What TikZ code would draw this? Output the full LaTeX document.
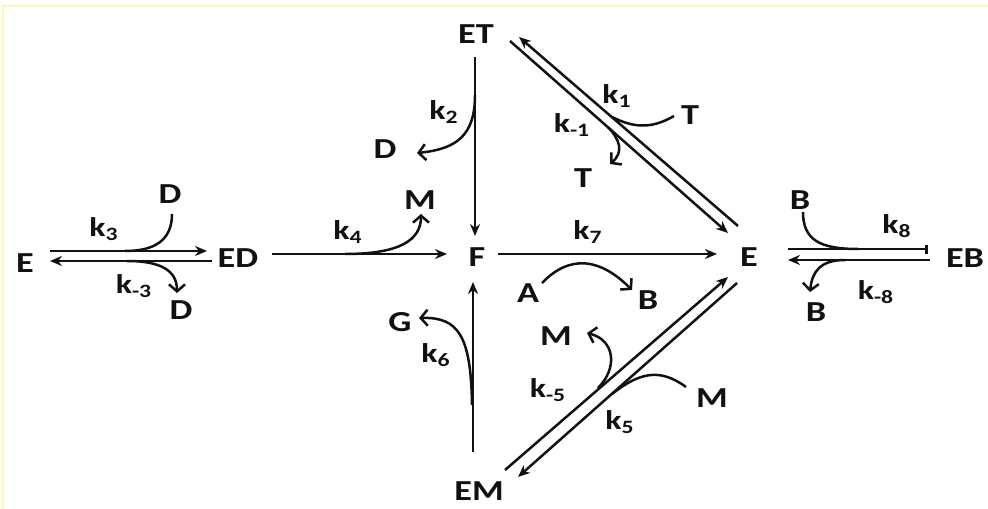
\documentclass[tikz,border=0pt]{standalone}
\usepackage{fontspec}
\setmainfont{Carlito}[FakeStretch=1.25]
\usetikzlibrary{arrows.meta,calc}
\definecolor{FrameYellow}{HTML}{FFF5B5}
\definecolor{InkBlack}{HTML}{111111}

\begin{document}
\begin{tikzpicture}[
x=0.5pt,y=-0.5pt,
spec/.style={inner sep=0pt,font=\fontsize{14.5}{16}\selectfont\bfseries,text=InkBlack},
rate/.style={inner sep=0pt,font=\fontsize{13.5}{15}\selectfont\bfseries,text=InkBlack},
rxn/.style={-{Stealth[length=6pt,width=5pt]},line width=1.25pt,draw=InkBlack},
rxnbar/.style={-{Bar[width=4.5pt,line width=1.4pt]},line width=1.25pt,draw=InkBlack},
outarr/.style={-{Straight Barb[length=3.5pt,width=8pt,line width=1.25pt]},line width=1.25pt,draw=InkBlack},
feed/.style={line width=1.25pt,draw=InkBlack}
]
\useasboundingbox (0,0) rectangle (988,508);
\draw[FrameYellow,line width=1.2pt] (3,6) rectangle (1000,520);

% enzyme species
\node[spec] (ET) at (476,34) {ET};
\node[spec] (F) at (477,257) {F};
\node[spec] (Er) at (749,257) {E};
\node[spec] (El) at (25,263) {E};
\node[spec] (ED) at (238,258) {ED};
\node[spec] (EB) at (965,258) {EB};
\node[spec] (EM) at (479,491) {EM};

% ligands
\node[spec] (Dk2) at (385,149) {D};
\node[spec] (Mk4) at (420,200) {M};
\node[spec] (Tin) at (690,115) {T};
\node[spec] (Tout) at (583,178) {T};
\node[spec] (Dk3) at (170,194) {D};
\node[spec] (Dkm3) at (181,310) {D};
\node[spec] (Bk8) at (800,200) {B};
\node[spec] (Bkm8) at (816,312) {B};
\node[spec] (A) at (528,293) {A};
\node[spec] (B) at (648,300) {B};
\node[spec] (G) at (400,322) {G};
\node[spec] (Mkm5) at (556,336) {M};
\node[spec] (Mk5) at (712,398) {M};

% rate constants
\node[rate] (k1) at (617,96) {k\textsubscript{1}};
\node[rate] (km1) at (572,125) {k\textsubscript{-1}};
\node[rate] (k2) at (444,112) {k\textsubscript{2}};
\node[rate] (k3) at (104,229) {k\textsubscript{3}};
\node[rate] (km3) at (134,286) {k\textsubscript{-3}};
\node[rate] (k4) at (348,232) {k\textsubscript{4}};
\node[rate] (k5) at (620,422) {k\textsubscript{5}};
\node[rate] (km5) at (548,390) {k\textsubscript{-5}};
\node[rate] (k6) at (436,355) {k\textsubscript{6}};
\node[rate] (k7) at (588,232) {k\textsubscript{7}};
\node[rate] (k8) at (897,226) {k\textsubscript{8}};
\node[rate] (km8) at (876,292) {k\textsubscript{-8}};

% junctions on the main lines
\coordinate (k1j) at (612,117);
\coordinate (km1j) at (608,127);
\coordinate (k2j) at (475,95);
\coordinate (k3j) at (125,251);
\coordinate (km3j) at (127,261);
\coordinate (k4j) at (345,254);
\coordinate (k5j) at (612,394);
\coordinate (km5j) at (598,388);
\coordinate (k6j) at (472,405);
\coordinate (k8j) at (858,249);
\coordinate (km8j) at (845,260);

% E + T <-> ET
\draw[rxn] ([shift={(34,7)}]ET.center) -- ([shift={(-21,-24)}]Er.center);
\draw[rxn] ([shift={(-11,-31)}]Er.center) -- ([shift={(43,3)}]ET.center);
\draw[feed] ([shift={(-16,1)}]Tin.center) .. controls (650,130) and (632,127) .. (k1j);
\draw[outarr] (km1j) .. controls (620,140) and (624,152) .. ([shift={(27,-14)}]Tout.center);

% ET -> F + D
\draw[rxn] ([shift={(-1,23)}]ET.center) -- ([shift={(-2,-21)}]F.center);
\draw[outarr] (k2j) .. controls (475,135) and (457,149) .. ([shift={(32,4)}]Dk2.center);

% E + D <-> ED
\draw[rxn] ([shift={(25,-12)}]El.center) -- ([shift={(-31,-7)}]ED.center);
\draw[rxn] ([shift={(-26,3)}]ED.center) -- ([shift={(25,-2)}]El.center);
\draw[feed] ([shift={(2,20)}]Dk3.center) .. controls (172,240) and (155,251) .. (k3j);
\draw[outarr] (km3j) .. controls (160,261) and (177,270) .. ([shift={(-4,-17)}]Dkm3.center);

% ED -> F + M
\draw[rxn] ([shift={(34,-4)}]ED.center) -- ([shift={(-30,-3)}]F.center);
\draw[outarr] (k4j) .. controls (400,254) and (421,240) .. ([shift={(1,14)}]Mk4.center);

% F -> E, A -> B
\draw[rxn] ([shift={(21,-3)}]F.center) -- ([shift={(-32,-3)}]Er.center);
\draw[outarr] ([shift={(14,-10)}]A.center) .. controls (562,262) and (592,250) .. ([shift={(-16,-10)}]B.center);

% E + B <-> EB
\draw[rxnbar] ([shift={(39,-8)}]Er.center) -- ([shift={(-37,-9)}]EB.center);
\draw[rxn] ([shift={(-35,2)}]EB.center) -- ([shift={(39,3)}]Er.center);
\draw[feed] ([shift={(3,12)}]Bk8.center) .. controls (803,240) and (820,249) .. (k8j);
\draw[outarr] (km8j) .. controls (820,260) and (812,272) .. ([shift={(-6,-20)}]Bkm8.center);

% E + M <-> EM
\draw[rxn] ([shift={(26,-21)}]EM.center) -- ([shift={(-21,20)}]Er.center);
\draw[rxn] ([shift={(-12,26)}]Er.center) -- ([shift={(39,-14)}]EM.center);
\draw[feed] ([shift={(-26,-11)}]Mk5.center) .. controls (660,368) and (640,372) .. (k5j);
\draw[outarr] (km5j) .. controls (618,368) and (615,340) .. ([shift={(31,-3)}]Mkm5.center);

% EM -> F + G
\draw[rxn] ([shift={(-6,-39)}]EM.center) -- ([shift={(-4,25)}]F.center);
\draw[outarr] (k6j) .. controls (471,335) and (458,317) .. ([shift={(19,-4)}]G.center);
\end{tikzpicture}
\end{document}
